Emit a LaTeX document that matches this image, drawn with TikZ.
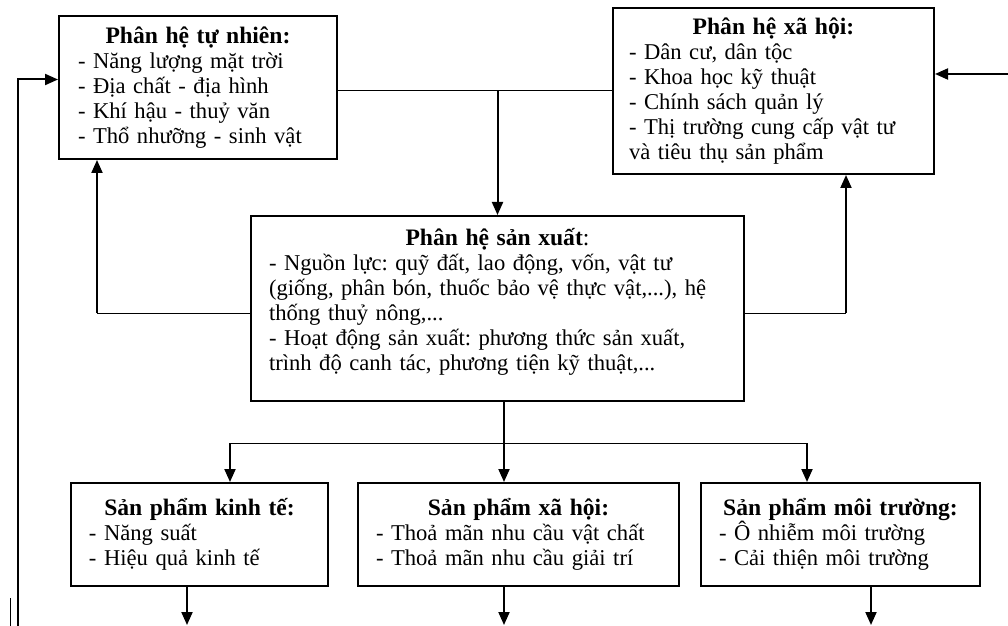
\documentclass[tikz,border=0pt]{standalone}
\usepackage{fontspec}
\setmainfont{Liberation Serif}
\usetikzlibrary{arrows.meta, positioning, calc}
\newcommand{\boxtitle}[1]{\centerline{\fontsize{11.8pt}{12.5pt}\bfseries #1}}

\begin{document}
\frenchspacing
\begin{tikzpicture}[
    x=0.5pt, y=-0.5pt,
    sysbox/.style={rectangle, draw=black, line width=1pt, anchor=north west,
                   inner xsep=9pt, inner ysep=3pt, align=left,
                   font=\fontsize{11.3pt}{12.5pt}\selectfont},
    arr/.style={-{Triangle[length=6.5pt, width=5.5pt]}, line width=1pt},
    link/.style={line width=0.5pt},
]
\useasboundingbox (0,0) rectangle (1008,626);

\node[sysbox, inner xsep=9.5pt, text width=120pt, minimum height=71.5pt] (tunhien) at (58,15)
    {\boxtitle{Phân hệ tự nhiên:}
     - Năng lượng mặt trời\\
     - Địa chất - địa hình\\
     - Khí hậu - thuỷ văn\\
     - Thổ nhưỡng - sinh vật};
\node[sysbox, inner xsep=8pt, text width=144.5pt, minimum height=83pt] (xahoi) at (612,7)
    {\boxtitle{Phân hệ xã hội:}
     - Dân cư, dân tộc\\
     - Khoa học kỹ thuật\\
     - Chính sách quản lý\\
     - Thị trường cung cấp vật tư\\
     và tiêu thụ sản phẩm};
\node[sysbox, text width=228.5pt, minimum height=92.5pt] (sanxuat) at (250,215)
    {\boxtitle{Phân hệ sản xuất{\mdseries:}}
     - Nguồn lực: quỹ đất, lao động, vốn, vật tư\\
     (giống, phân bón, thuốc bảo vệ thực vật,...), hệ\\
     thống thuỷ nông,...\\
     - Hoạt động sản xuất: phương thức sản xuất,\\
     trình độ canh tác, phương tiện kỹ thuật,...\rule[-9pt]{0pt}{0pt}};

\node[sysbox, text width=110.5pt, minimum height=51.5pt] (kinhte) at (70,482)
    {\boxtitle{Sản phẩm kinh tế:}
     - Năng suất\\
     - Hiệu quả kinh tế};
\node[sysbox, text width=142.5pt, minimum height=51.5pt] (xhsp) at (357,482)
    {\boxtitle{Sản phẩm xã hội:}
     - Thoả mãn nhu cầu vật chất\\
     - Thoả mãn nhu cầu giải trí};
\node[sysbox, text width=121.5pt, minimum height=51.5pt] (moitruong) at (700,482)
    {\boxtitle{Sản phẩm môi trường:}
     - Ô nhiễm môi trường\\
     - Cải thiện môi trường};

% connector points
\coordinate (bottom) at (0,625);
\coordinate (loopfoot) at (18,626);
\coordinate (socin) at (1008,74);
\coordinate (sxleft) at ([yshift=-2.25pt]sanxuat.west);
\coordinate (sxright) at ([yshift=-2.25pt]sanxuat.east);
\coordinate (tnfoot) at ([xshift=19.5pt]tunhien.south west);
\coordinate (xhfoot) at ([xshift=117pt]xahoi.south west);
\coordinate (sxfoot) at ([xshift=3.25pt]sanxuat.south);
\coordinate (bus) at ($(sxfoot)+(0,41)$);
\coordinate (ktin) at ([xshift=15.25pt]kinhte.north);
\coordinate (mtin) at ([xshift=-16.75pt]moitruong.north);
\coordinate (ktout) at ([xshift=-6.25pt]kinhte.south);
\coordinate (xhout) at ([xshift=-7.25pt]xhsp.south);
\coordinate (mtout) at ([xshift=15.25pt]moitruong.south);

% top: tu nhien -- xa hoi, down into san xuat
\draw[link] (tunhien.east |- xahoi.west) -- (xahoi.west);
\draw[arr] (sanxuat.north |- xahoi.west) -- (sanxuat.north);

% san xuat back to both subsystems
\draw[link] (sxleft) -- (sxleft -| tnfoot);
\draw[arr] (sxleft -| tnfoot) -- (tnfoot);
\draw[link] (sxright) -- (sxright -| xhfoot);
\draw[arr] (sxright -| xhfoot) -- (xhfoot);

% san xuat to products
\draw[arr] (sxfoot) -- (sxfoot |- xhsp.north);
\draw[link] (ktin |- bus) -- (mtin |- bus);
\draw[arr] (ktin |- bus) -- (ktin);
\draw[arr] (mtin |- bus) -- (mtin);

% products out
\draw[arr] (ktout) -- (ktout |- bottom);
\draw[arr] (xhout) -- (xhout |- bottom);
\draw[arr] (mtout) -- (mtout |- bottom);

% feedback loops
\draw[arr] (loopfoot) |- ([yshift=4pt]tunhien.west);
\draw[arr] (socin) -- (socin -| xahoi.east);
\draw[link] (10,598) -- (10,626);

\end{tikzpicture}
\end{document}
